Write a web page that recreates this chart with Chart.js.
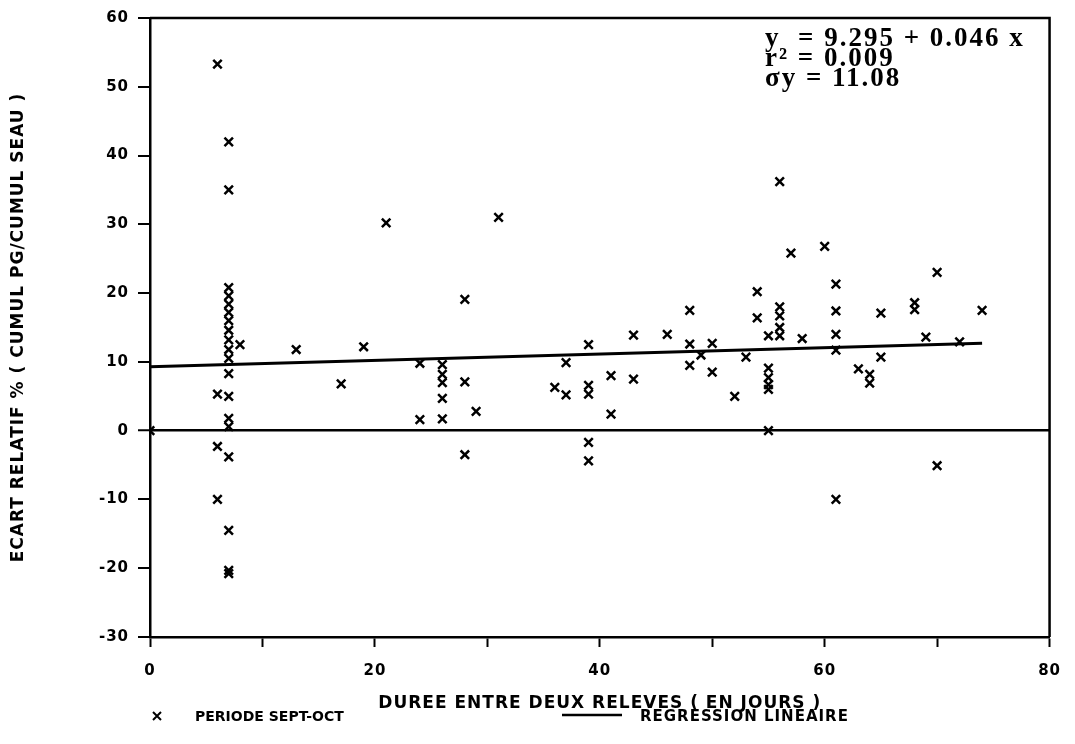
<!DOCTYPE html>
<html>
<head>
<meta charset="utf-8">
<script src="https://cdn.jsdelivr.net/npm/chart.js@4.4.1/dist/chart.umd.min.js"></script>
<style>
  body { margin: 0; background: #fff; }
  #wrap { width: 1075px; height: 744px; }
</style>
</head>
<body>
<div id="wrap"><canvas id="ecart" width="1075" height="744"></canvas></div>
<script>
// points: duree (jours) / ecart relatif (%)
const dureeJours = [
  0,
  6, 6, 6, 6,
  7, 7, 7, 7, 7, 7, 7, 7, 7, 7, 7, 7, 7, 7, 7, 7, 7, 7, 7,
  8, 13, 17, 19, 21,
  24, 24,
  26, 26, 26, 26, 26,
  28, 28, 28, 29, 31, 36,
  37, 37,
  39, 39, 39, 39, 39,
  41, 41, 43, 43, 46,
  48, 48, 48, 49, 50, 50, 52, 53,
  54, 54,
  55, 55, 55, 55, 55, 55,
  56, 56, 56, 56, 56,
  57, 58, 60,
  61, 61, 61, 61, 61,
  63, 64, 64, 65, 65,
  68, 68, 69, 70, 70, 72, 74
];
const ecartRelatif = [
  0,
  53.3, 5.3, -2.3, -10,
  42, 35, 20.8, 19.6, 18.4, 17.2, 16.0, 14.6, 13.2, 11.8, 10.5, 8.3, 5.0, 1.8, 0.6, -3.8, -14.5, -20.3, -20.8,
  12.5, 11.8, 6.8, 12.2, 30.2,
  9.8, 1.6,
  9.6, 8.2, 7.0, 4.7, 1.7,
  19.1, 7.1, -3.5, 2.8, 31.0, 6.3,
  9.9, 5.2,
  12.5, 6.6, 5.3, -1.7, -4.4,
  8.0, 2.4, 13.9, 7.5, 14.0,
  17.5, 12.6, 9.5, 11.0, 12.7, 8.5, 5.0, 10.7,
  20.2, 16.4,
  13.8, 9.1, 7.7, 6.7, 6.0, 0,
  36.2, 18.0, 16.7, 15.0, 13.8,
  25.8, 13.4, 26.8,
  21.3, 17.4, 14.0, 11.7, -10,
  9.0, 8.2, 6.9, 17.1, 10.7,
  18.6, 17.6, 13.6, 23.0, -5.1, 12.9, 17.5
];

// regression line ends, as drawn
const regX = [0, 74];
const regY = [9.3, 12.7];

const equationLines = ['y  = 9.295 + 0.046 x', 'r\u00B2 = 0.009', '\u03C3y = 11.08'];

const xTitle = 'DUREE ENTRE DEUX RELEVES ( EN JOURS )';
const yTitle = 'ECART RELATIF % ( CUMUL PG/CUMUL SEAU )';
const legendPoints = 'PERIODE SEPT-OCT';
const legendLine = 'REGRESSION LINEAIRE';

var points = [];
for (let i = 0; i < dureeJours.length; i++) {
  points.push({x: dureeJours[i], y: ecartRelatif[i]});
}
var regPoints = [];
for (let i = 0; i < regX.length; i++) {
  regPoints.push({x: regX[i], y: regY[i]});
}

const labelFont = "'DejaVu Sans'";

// old plotter look: a bit of spacing on every label
const spacing = {
  id: 'spacing',
  beforeDraw(chart) {
    chart.ctx.letterSpacing = '1px';
  }
};

// frame round the plot + equation + legend under the axis
const extras = {
  id: 'extras',
  afterDraw(chart) {
    const ctx = chart.ctx;
    const a = chart.chartArea;
    ctx.save();
    ctx.strokeStyle = '#000';
    ctx.lineWidth = 2.5;
    ctx.beginPath();
    ctx.moveTo(a.left, a.top);
    ctx.lineTo(a.right, a.top);
    ctx.lineTo(a.right, a.bottom);
    ctx.stroke();

    ctx.fillStyle = '#000';
    ctx.letterSpacing = '2px';
    ctx.font = 'bold 27px "Liberation Serif"';
    ctx.textBaseline = 'alphabetic';
    ctx.textAlign = 'left';
    ctx.fillText(equationLines[0], 765, 46);
    ctx.fillText(equationLines[1], 765, 66);
    ctx.fillText(equationLines[2], 765, 86);

    // legend
    ctx.letterSpacing = '0px';
    ctx.font = 'bold 14px ' + labelFont;
    ctx.textBaseline = 'middle';
    ctx.lineWidth = 2;
    ctx.beginPath();
    ctx.moveTo(153, 712); ctx.lineTo(161, 720);
    ctx.moveTo(161, 712); ctx.lineTo(153, 720);
    ctx.stroke();
    ctx.fillText(legendPoints, 195, 717);
    ctx.lineWidth = 2.5;
    ctx.beginPath();
    ctx.moveTo(562, 715); ctx.lineTo(622, 715);
    ctx.stroke();
    ctx.letterSpacing = '1px';
    ctx.font = 'bold 15px ' + labelFont;
    ctx.fillText(legendLine, 640, 717);
    ctx.restore();
  }
};

const config = {
  type: 'scatter',
  data: {
    datasets: [
      {
        label: legendPoints,
        data: points,
        pointStyle: 'crossRot',
        pointRadius: 6,
        borderColor: '#000',
        backgroundColor: '#000',
        borderWidth: 2.5
      },
      {
        type: 'line',
        label: legendLine,
        data: regPoints,
        showLine: true,
        pointRadius: 0,
        borderColor: '#000',
        borderWidth: 3,
        fill: false
      }
    ]
  },
  options: {
    responsive: false,
    animation: false,
    layout: { padding: { left: 0, top: 18, right: 17, bottom: 0 } },
    plugins: {
      legend: { display: false },
      tooltip: { enabled: false }
    },
    scales: {
      x: {
        type: 'linear',
        min: 0, max: 80,
        afterFit: (s) => { s.height = 107; },
        border: { display: true, color: '#000', width: 2.5 },
        grid: { drawOnChartArea: false, tickColor: '#000', tickLength: 10, tickWidth: 2 },
        ticks: {
          stepSize: 10,
          color: '#000',
          padding: 15,
          maxRotation: 0,
          font: { family: labelFont, weight: 'bold', size: 15 },
          callback: (v) => (v % 20 === 0 ? v : '')
        },
        title: {
          display: true,
          text: xTitle,
          color: '#000',
          font: { family: labelFont, weight: 'bold', size: 17 },
          padding: { top: 0, bottom: 30 }
        }
      },
      y: {
        type: 'linear',
        min: -30, max: 60,
        afterFit: (s) => { s.width = 150; },
        border: { display: true, color: '#000', width: 2.5 },
        grid: {
          color: (c) => (c.tick && c.tick.value === 0 ? '#000' : 'rgba(0,0,0,0)'),
          lineWidth: (c) => (c.tick && c.tick.value === 0 ? 2.5 : 0),
          tickColor: '#000', tickLength: 12, tickWidth: 2
        },
        ticks: {
          stepSize: 10,
          color: '#000',
          padding: 9,
          font: { family: labelFont, weight: 'bold', size: 15 }
        },
        title: {
          display: true,
          text: yTitle,
          color: '#000',
          font: { family: labelFont, weight: 'bold', size: 17 },
          padding: { top: 8, bottom: 0 }
        }
      }
    }
  },
  plugins: [spacing, extras]
};

const myChart = new Chart(document.getElementById('ecart'), config);
</script>
</body>
</html>
